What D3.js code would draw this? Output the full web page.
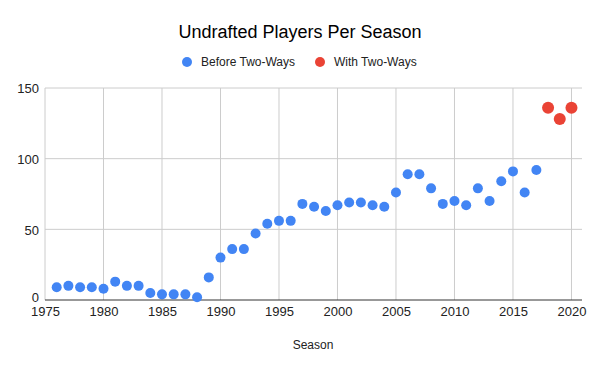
<!DOCTYPE html>
<html>
<head>
<meta charset="utf-8">
<script src="https://cdn.jsdelivr.net/npm/d3@7"></script>
<style>
  body { margin: 0; background: #fff; }
  svg { display: block; font-family: Arial, "Liberation Sans", sans-serif; }
</style>
</head>
<body>
<div id="chart"></div>
<script>
// seasons and undrafted player counts
const seasonsBefore = [1976, 1977, 1978, 1979, 1980, 1981, 1982, 1983, 1984, 1985, 1986, 1987, 1988, 1989,
    1990, 1991, 1992, 1993, 1994, 1995, 1996, 1997, 1998, 1999, 2000, 2001, 2002, 2003, 2004, 2005,
    2006, 2007, 2008, 2009, 2010, 2011, 2012, 2013, 2014, 2015, 2016, 2017];
const playersBefore = [9, 10, 9, 9, 8, 13, 10, 10, 5, 4, 4, 4, 2, 16,
    30, 36, 36, 47, 54, 56, 56, 68, 66, 63, 67, 69, 69, 67, 66, 76,
    89, 89, 79, 68, 70, 67, 79, 70, 84, 91, 76, 92];
const seasonsWith = [2018, 2019, 2020];
const playersWith = [136, 128, 136];

const xTicks = [1975, 1980, 1985, 1990, 1995, 2000, 2005, 2010, 2015, 2020];
const yTicks = [0, 50, 100, 150];
const seriesNames = ["Before Two-Ways", "With Two-Ways"];
const seriesColors = ["#4285f4", "#ea4335"];

const width = 600, height = 371;
const margin = { top: 88, right: 18, bottom: 71, left: 45 };

const svg = d3.select("#chart")
    .append("svg")
    .attr("width", width)
    .attr("height", height);

const x = d3.scaleLinear()
    .domain([1975, 2020.9])
    .range([margin.left, width - margin.right]);
const y = d3.scaleLinear()
    .domain([0, 150])
    .range([height - margin.bottom, margin.top]);

// title
svg.append("text")
    .attr("x", 300)
    .attr("y", 38)
    .attr("text-anchor", "middle")
    .attr("font-size", "18px")
    .attr("fill", "#000")
    .text("Undrafted Players Per Season");

// legend
const legendX = [187, 320];
seriesNames.forEach((name, i) => {
    const g = svg.append("g").attr("transform", `translate(${legendX[i]}, 62)`);
    g.append("circle").attr("r", 5).attr("fill", seriesColors[i]);
    g.append("text")
        .attr("x", 14)
        .attr("y", 4)
        .attr("font-size", "12px")
        .attr("fill", "#222")
        .text(name);
});

// gridlines
svg.append("g")
    .selectAll("line")
    .data(xTicks)
    .join("line")
    .attr("x1", d => x(d)).attr("x2", d => x(d))
    .attr("y1", y(150)).attr("y2", y(0))
    .attr("stroke", "#cccccc")
    .attr("stroke-width", 1);
svg.append("g")
    .selectAll("line")
    .data(yTicks.filter(d => d > 0))
    .join("line")
    .attr("x1", x.range()[0]).attr("x2", x.range()[1])
    .attr("y1", d => y(d)).attr("y2", d => y(d))
    .attr("stroke", "#cccccc")
    .attr("stroke-width", 1);

// baseline
svg.append("line")
    .attr("x1", x.range()[0]).attr("x2", x.range()[1])
    .attr("y1", y(0)).attr("y2", y(0))
    .attr("stroke", "#333")
    .attr("stroke-width", 1);

// x axis
const xAxis = svg.append("g")
    .attr("transform", `translate(0, ${y(0)})`)
    .call(d3.axisBottom(x).tickValues(xTicks).tickFormat(d3.format("d")).tickSize(0).tickPadding(7));
xAxis.select(".domain").remove();
xAxis.selectAll("text").attr("font-size", "13px").attr("fill", "#222").attr("font-family", null);

// y axis
const yAxis = svg.append("g")
    .attr("transform", `translate(${margin.left}, 0)`)
    .call(d3.axisLeft(y).tickValues(yTicks).tickSize(0).tickPadding(6));
yAxis.select(".domain").remove();
yAxis.selectAll("text").attr("font-size", "13px").attr("fill", "#222").attr("font-family", null);
yAxis.selectAll(".tick text").attr("dy", d => d === 0 ? "0.15em" : "0.36em");

// axis title
svg.append("text")
    .attr("x", 313)
    .attr("y", 349)
    .attr("text-anchor", "middle")
    .attr("font-size", "12px")
    .attr("fill", "#222")
    .text("Season");

// points
svg.append("g")
    .selectAll("circle")
    .data(d3.zip(seasonsBefore, playersBefore))
    .join("circle")
    .attr("cx", d => x(d[0]))
    .attr("cy", d => y(d[1]))
    .attr("r", 5)
    .attr("fill", seriesColors[0]);

svg.append("g")
    .selectAll("circle")
    .data(d3.zip(seasonsWith, playersWith))
    .join("circle")
    .attr("cx", d => x(d[0]))
    .attr("cy", d => y(d[1]))
    .attr("r", 6)
    .attr("fill", seriesColors[1]);
</script>
</body>
</html>
